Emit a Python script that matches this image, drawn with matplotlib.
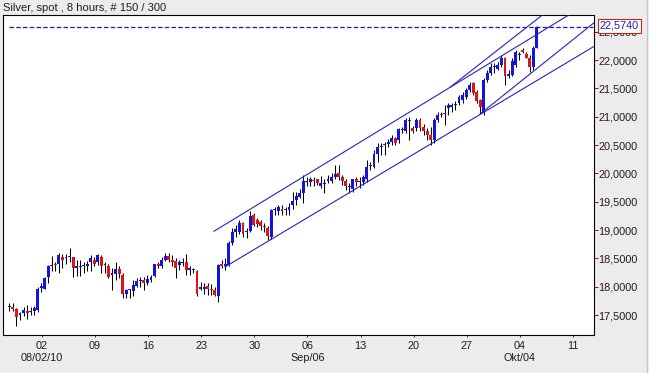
"""
Silver spot, 8-hour candles with trend channel lines.
Output: out.png
"""
import matplotlib
matplotlib.use("Agg")
import matplotlib.pyplot as plt
from matplotlib.lines import Line2D
import numpy as np

plt.rcParams["font.family"] = ["Liberation Sans", "DejaVu Sans"]

BG        = "#ECECEC"
UP_COL    = "#1414DC"
DN_COL    = "#DC1414"
LINE_COL  = "#2323C0"
TICK_COL  = "#CC0000"
TXT_COL   = "#1E1E1E"

TITLE = "Silver, spot , 8 hours, # 150 / 300"

# ── OHLC, one value per 8-hour bar (150 bars) ────────────────────────────────
opens = [
    17.64, 17.65, 17.61, 17.51, 17.54, 17.58, 17.56, 17.58, 17.59, 17.98,
    17.97, 18.17, 18.36, 18.41, 18.40, 18.53, 18.50, 18.52, 18.52, 18.34,
    18.35, 18.36, 18.36, 18.44, 18.47, 18.44, 18.53, 18.38, 18.37, 18.20,
    18.22, 18.31, 18.20, 17.87, 17.94, 17.93, 18.02, 18.10, 18.12, 18.07,
    18.12, 18.19, 18.40, 18.37, 18.48, 18.54, 18.48, 18.46, 18.38, 18.42,
    18.44, 18.30, 18.29, 18.27, 17.96, 17.97, 18.01, 17.97, 17.94, 17.84,
    18.40, 18.36, 18.39, 18.77, 18.97, 18.97, 19.13, 18.97, 18.99, 19.27,
    19.17, 19.15, 19.07, 19.03, 18.87, 19.35, 19.34, 19.38, 19.35, 19.36,
    19.44, 19.53, 19.59, 19.65, 19.85, 19.84, 19.88, 19.90, 19.78, 19.81,
    19.87, 19.87, 19.93, 20.01, 19.93, 19.87, 19.76, 19.72, 19.90, 19.85,
    19.84, 19.90, 20.13, 20.12, 20.35, 20.47, 20.50, 20.52, 20.55, 20.62,
    20.59, 20.76, 20.74, 20.92, 20.80, 20.80, 20.95, 20.82, 20.74, 20.68,
    20.59, 20.94, 21.05, 21.05, 21.15, 21.17, 21.20, 21.24, 21.30, 21.35,
    21.47, 21.59, 21.44, 21.30, 21.06, 21.65, 21.77, 21.88, 21.85, 21.91,
    22.04, 21.71, 21.74, 21.91, 22.09, 22.18, 22.10, 22.04, 21.88, 22.22,
]
highs = [
    17.72, 17.72, 17.62, 17.56, 17.65, 17.68, 17.65, 17.66, 18.00, 18.06,
    18.18, 18.38, 18.54, 18.44, 18.59, 18.58, 18.58, 18.68, 18.53, 18.47,
    18.47, 18.44, 18.46, 18.56, 18.53, 18.57, 18.56, 18.44, 18.41, 18.33,
    18.43, 18.36, 18.24, 17.97, 17.97, 18.12, 18.15, 18.18, 18.17, 18.21,
    18.21, 18.41, 18.44, 18.53, 18.60, 18.59, 18.56, 18.50, 18.48, 18.50,
    18.58, 18.36, 18.33, 18.30, 18.09, 18.06, 18.07, 18.05, 18.00, 18.41,
    18.47, 18.50, 18.80, 19.03, 19.09, 19.17, 19.15, 19.03, 19.33, 19.30,
    19.21, 19.18, 19.12, 19.07, 19.37, 19.41, 19.44, 19.44, 19.41, 19.47,
    19.68, 19.68, 19.72, 19.97, 19.94, 19.94, 19.94, 19.91, 19.95, 19.90,
    19.97, 20.00, 20.15, 20.15, 19.97, 19.91, 19.83, 19.91, 19.93, 19.94,
    19.97, 20.24, 20.21, 20.41, 20.53, 20.53, 20.56, 20.60, 20.68, 20.65,
    20.80, 20.81, 20.97, 21.00, 20.84, 20.97, 20.97, 20.88, 20.80, 20.82,
    20.97, 21.09, 21.09, 21.21, 21.24, 21.25, 21.28, 21.38, 21.43, 21.50,
    21.62, 21.62, 21.47, 21.32, 21.68, 21.82, 21.94, 21.94, 21.97, 22.09,
    22.06, 21.82, 22.03, 22.18, 22.14, 22.21, 22.15, 22.08, 22.24, 22.60,
]
lows = [
    17.58, 17.58, 17.31, 17.41, 17.49, 17.44, 17.50, 17.50, 17.56, 17.90,
    17.96, 18.07, 18.28, 18.27, 18.25, 18.33, 18.41, 18.43, 18.18, 18.19,
    18.19, 18.25, 18.27, 18.27, 18.37, 18.38, 18.25, 18.24, 18.15, 17.94,
    18.12, 18.15, 17.80, 17.80, 17.81, 17.84, 18.00, 18.00, 17.94, 18.03,
    18.09, 18.18, 18.33, 18.33, 18.46, 18.44, 18.36, 18.15, 18.30, 18.36,
    18.21, 18.21, 18.24, 17.83, 17.94, 17.88, 17.86, 17.86, 17.83, 17.74,
    18.33, 18.30, 18.36, 18.74, 18.88, 18.94, 18.87, 18.86, 18.97, 19.07,
    19.05, 19.00, 18.96, 18.83, 18.84, 19.27, 19.27, 19.27, 19.27, 19.27,
    19.38, 19.44, 19.56, 19.47, 19.77, 19.77, 19.77, 19.80, 19.74, 19.65,
    19.83, 19.83, 19.90, 19.88, 19.80, 19.71, 19.65, 19.68, 19.77, 19.74,
    19.80, 19.85, 20.06, 20.09, 20.21, 20.33, 20.33, 20.47, 20.50, 20.50,
    20.53, 20.71, 20.71, 20.59, 20.71, 20.74, 20.74, 20.68, 20.59, 20.50,
    20.53, 20.91, 21.00, 20.85, 21.03, 21.09, 21.12, 21.21, 21.25, 21.32,
    21.44, 21.38, 21.24, 21.06, 21.03, 21.62, 21.74, 21.77, 21.82, 21.88,
    21.56, 21.68, 21.71, 21.88, 22.00, 22.12, 22.03, 21.79, 21.82, 22.21,
]
closes = [
    17.66, 17.61, 17.46, 17.53, 17.59, 17.54, 17.57, 17.62, 17.97, 18.01,
    18.15, 18.36, 18.37, 18.38, 18.56, 18.48, 18.51, 18.54, 18.33, 18.37,
    18.36, 18.37, 18.41, 18.50, 18.41, 18.56, 18.36, 18.39, 18.17, 18.24,
    18.31, 18.22, 17.87, 17.94, 17.95, 18.03, 18.11, 18.11, 18.06, 18.13,
    18.18, 18.40, 18.37, 18.48, 18.54, 18.47, 18.43, 18.34, 18.44, 18.43,
    18.30, 18.34, 18.30, 17.88, 18.00, 17.98, 17.97, 17.94, 17.86, 18.38,
    18.36, 18.40, 18.77, 18.97, 19.02, 19.13, 18.93, 18.98, 19.25, 19.09,
    19.11, 19.07, 19.05, 18.90, 19.36, 19.36, 19.40, 19.34, 19.36, 19.41,
    19.52, 19.60, 19.65, 19.86, 19.86, 19.90, 19.86, 19.83, 19.83, 19.82,
    19.91, 19.93, 19.99, 19.93, 19.87, 19.77, 19.77, 19.90, 19.84, 19.86,
    19.93, 20.11, 20.14, 20.35, 20.47, 20.48, 20.51, 20.56, 20.62, 20.53,
    20.78, 20.77, 20.94, 20.94, 20.74, 20.95, 20.80, 20.74, 20.68, 20.59,
    20.94, 21.03, 21.03, 21.07, 21.20, 21.21, 21.21, 21.35, 21.38, 21.47,
    21.56, 21.41, 21.27, 21.18, 21.65, 21.77, 21.88, 21.89, 21.91, 22.03,
    21.71, 21.75, 21.98, 22.15, 22.11, 22.14, 22.04, 21.88, 22.21, 22.574,
]
LAST_PRICE = 22.574

# week ticks (bar index of Monday open) and their labels
week_pos    = [9.2, 24.2, 39.2, 54.2, 69.2, 84.2, 99.2, 114.2, 129.2, 144.2, 159.2]
week_labels = ["02\n08/02/10", "09", "16", "23", "30", "06\nSep/06",
               "13", "20", "27", "04\nOkt/04", "11"]

price_ticks = [17.5, 18.0, 18.5, 19.0, 19.5, 20.0, 20.5, 21.0, 21.5, 22.0, 22.5]

# trend lines: (bar index, price) start -> end
trend_x0 = [57.8, 60.9, 133.0, 124.5]
trend_p0 = [18.98, 18.35, 21.05, 21.52]
trend_x1 = [165.0, 165.0, 165.0, 165.0]
trend_p1 = [23.06, 22.235, 22.65, 23.50]

W, H = 649, 373
fig = plt.figure(figsize=(W / 100, H / 100), dpi=100, facecolor=BG)
ax = fig.add_axes([3 / W, 1 - 335 / H, (593.5 - 3) / W, (335 - 15) / H])
ax.set_facecolor("white")

o = np.array(opens); c = np.array(closes)
hi = np.array(highs); lo = np.array(lows)
x = np.arange(len(o))
up = c >= o
cols = np.where(up, UP_COL, DN_COL)
bottoms = np.minimum(o, c)
heights = np.maximum(np.abs(c - o), 0.018)

ax.vlines(x, lo, hi, color="black", lw=0.75, zorder=2)
ax.bar(x, heights, bottom=bottoms, width=0.82, color=cols, linewidth=0, zorder=3)

for x0, p0, x1, p1 in zip(trend_x0, trend_p0, trend_x1, trend_p1):
    ax.plot([x0, x1], [p0, p1], color=LINE_COL, lw=0.8, zorder=4)

ax.plot([0, 165.0], [LAST_PRICE, LAST_PRICE], color="#1A1AC0", lw=0.9,
        dashes=(3.6, 1.8), zorder=4)

ax.set_xlim(-1.8, 165.0)
ax.set_ylim(17.15, 22.794)

for sp in ax.spines.values():
    sp.set_color("black"); sp.set_linewidth(0.8)

ax.yaxis.tick_right()
ax.set_yticks(price_ticks)
ax.set_yticklabels([f"{v:.4f}".replace(".", ",") for v in price_ticks])
ax.tick_params(axis="y", direction="out", length=2.9, width=0.72, color=TICK_COL,
               pad=0.8, labelsize=7.8, labelcolor=TXT_COL)
ax.set_xticks(week_pos)
ax.set_xticklabels(week_labels)
ax.tick_params(axis="x", direction="out", length=1.5, width=0.72, color=TICK_COL,
               pad=3.0, labelsize=7.8, labelcolor=TXT_COL)

fig.text(3 / W, 1 - 8 / H, TITLE, fontsize=8.0, color=TXT_COL, va="center", ha="left")

fig.text(599.5 / W, 1 - 25.6 / H, f"{LAST_PRICE:.4f}".replace(".", ","),
         fontsize=7.8, color="#1A1AC8", va="center", ha="left",
         bbox=dict(boxstyle="square,pad=0.18", fc="white", ec="#C82020", lw=0.8))

fig.add_artist(Line2D([646.5 / W, 646.5 / W], [0, 1], color="#C4C4C4", lw=0.8))

fig.savefig("out.png", dpi=100, facecolor=fig.get_facecolor())
plt.close(fig)
